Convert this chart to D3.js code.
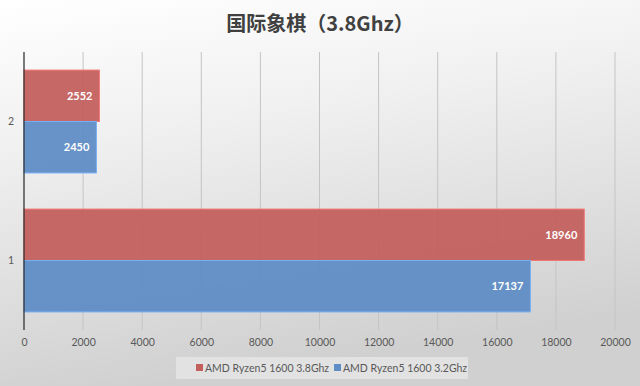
<!DOCTYPE html>
<html lang="zh">
<head>
<meta charset="UTF-8">
<title>国际象棋（3.8Ghz）</title>
<style>
    body { margin: 0; padding: 0; background: #fff; }
    svg { display: block; font-family: Lato, 'Noto Sans CJK SC', sans-serif; }
</style>
</head>
<body>
<div id="chart"></div>
<script src="https://d3js.org/d3.v7.min.js"></script>
<script>
    const categories = ["2", "1"];
    const seriesNames = ["AMD Ryzen5 1600 3.8Ghz", "AMD Ryzen5 1600 3.2Ghz"];
    const values38 = [2552, 18960];
    const values32 = [2450, 17137];
    const xTicks = [0, 2000, 4000, 6000, 8000, 10000, 12000, 14000, 16000, 18000, 20000];
    const colors = ["#c3605e", "#5f8dc5"];

    const width = 640, height = 386;
    const margin = {top: 52, right: 25, bottom: 56, left: 24};

    const svg = d3.select("#chart").append("svg")
        .attr("width", width)
        .attr("height", height);

    // background gradient
    const defs = svg.append("defs");
    const grad = defs.append("linearGradient")
        .attr("id", "bg")
        .attr("x1", "0").attr("y1", "0")
        .attr("x2", "0.25").attr("y2", "1");
    grad.append("stop").attr("offset", "0%").attr("stop-color", "#ffffff");
    grad.append("stop").attr("offset", "35%").attr("stop-color", "#f1f1f1");
    grad.append("stop").attr("offset", "100%").attr("stop-color", "#d0d0d0");

    svg.append("rect")
        .attr("width", width).attr("height", height)
        .attr("fill", "url(#bg)");

    const x = d3.scaleLinear()
        .domain([0, 20000])
        .range([margin.left, width - margin.right]);

    const y = d3.scaleBand()
        .domain(categories)
        .range([margin.top, height - margin.bottom]);

    const gap = y.bandwidth() * 0.13;
    const inner = d3.scaleBand()
        .domain([0, 1])
        .range([gap, y.bandwidth() - gap]);

    // gridlines
    svg.append("g")
        .selectAll("line")
        .data(xTicks.slice(1))
        .enter().append("line")
        .attr("x1", d => x(d)).attr("x2", d => x(d))
        .attr("y1", margin.top)
        .attr("y2", height - margin.bottom)
        .attr("stroke", "#c4c4c4")
        .attr("stroke-width", 1);

    const rows = categories.map((c, i) => ({cat: c, vals: [values38[i], values32[i]]}));

    const group = svg.append("g")
        .selectAll("g")
        .data(rows)
        .enter().append("g")
        .attr("transform", d => "translate(0," + y(d.cat) + ")");

    group.selectAll("rect")
        .data(d => d.vals.map((v, j) => ({v: v, j: j})))
        .enter().append("rect")
        .attr("x", x(0))
        .attr("y", d => inner(d.j))
        .attr("width", d => x(d.v) - x(0))
        .attr("height", inner.bandwidth())
        .attr("fill", d => colors[d.j])
        .attr("fill-opacity", 0.95)
        .attr("stroke", d => d3.color(colors[d.j]).brighter(0.6))
        .attr("stroke-width", 1);

    group.selectAll("text")
        .data(d => d.vals.map((v, j) => ({v: v, j: j})))
        .enter().append("text")
        .attr("x", d => x(d.v) - 7)
        .attr("y", d => inner(d.j) + inner.bandwidth() / 2)
        .attr("dy", "0.35em")
        .attr("text-anchor", "end")
        .attr("fill", "#ffffff")
        .attr("font-size", "11px")
        .attr("font-weight", "bold")
        .text(d => d.v);

    // zero axis
    svg.append("line")
        .attr("x1", x(0)).attr("x2", x(0))
        .attr("y1", margin.top)
        .attr("y2", height - margin.bottom)
        .attr("stroke", "#262626")
        .attr("stroke-width", 1.2);

    // x tick labels
    const xAxis = svg.append("g")
        .attr("transform", "translate(0," + (height - margin.bottom) + ")")
        .call(d3.axisBottom(x).tickValues(xTicks).tickSize(0).tickPadding(9).tickFormat(d3.format("d")));
    xAxis.select(".domain").remove();
    xAxis.selectAll("text")
        .attr("fill", "#595959")
        .attr("font-size", "10.5px")
        .attr("font-family", "Lato, sans-serif");

    // y labels
    const yAxis = svg.append("g")
        .attr("transform", "translate(" + (margin.left - 10) + ",0)")
        .call(d3.axisLeft(y).tickSize(0).tickPadding(0));
    yAxis.select(".domain").remove();
    yAxis.selectAll("text")
        .attr("fill", "#595959")
        .attr("font-size", "10.5px")
        .attr("font-family", "Lato, sans-serif");

    // title
    svg.append("text")
        .attr("x", width / 2)
        .attr("y", 31)
        .attr("text-anchor", "middle")
        .attr("fill", "#404040")
        .attr("font-size", "20px")
        .attr("font-weight", "bold")
        .attr("font-family", "'Noto Sans CJK SC', sans-serif")
        .text("国际象棋（3.8Ghz）");

    // legend
    const legend = svg.append("g").attr("transform", "translate(176,357)");
    legend.append("rect")
        .attr("width", 292).attr("height", 22)
        .attr("fill", "#e6e6e6")
        .attr("fill-opacity", 0.8);
    const legendX = [20, 158];
    seriesNames.forEach((name, i) => {
        legend.append("rect")
            .attr("x", legendX[i]).attr("y", 7)
            .attr("width", 7).attr("height", 7)
            .attr("fill", colors[i]);
        legend.append("text")
            .attr("x", legendX[i] + 9).attr("y", 11)
            .attr("dy", "0.35em")
            .attr("fill", "#595959")
            .attr("font-size", "10.5px")
            .attr("font-family", "Lato, sans-serif")
            .text(name);
    });
</script>
</body>
</html>
